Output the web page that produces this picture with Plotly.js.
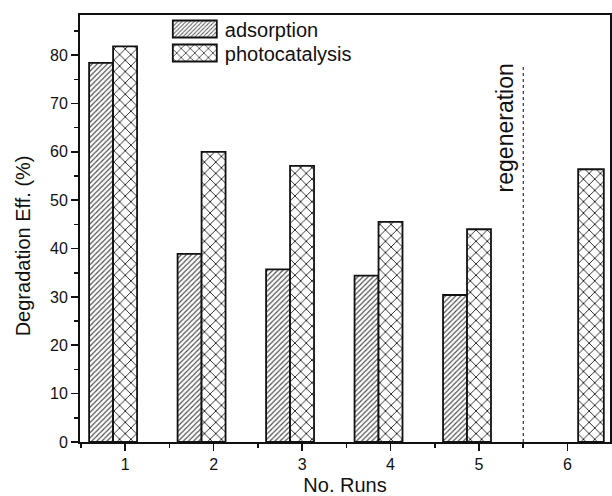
<!DOCTYPE html>
<html>
<head>
<meta charset="utf-8">
<script src="https://cdn.plot.ly/plotly-3.0.1.min.js"></script>
<style>
  html, body { margin: 0; padding: 0; background: #fff; }
  #chart { width: 612px; height: 496px; }
</style>
</head>
<body>
<div id="chart"></div>
<script>
// ---- data ----
const runs = [1, 2, 3, 4, 5, 6];
const adsorption = [78.4, 38.9, 35.7, 34.4, 30.4, null];
const photocatalysis = [81.8, 60.0, 57.1, 45.5, 44.0, 56.4];
const seriesNames = ['adsorption', 'photocatalysis'];
const regenerationX = 5.5;     // separator between run 5 and run 6
const regenerationTop = 78;    // top of the dotted separator
const regenerationLabel = 'regeneration';
const xTitle = 'No. Runs';
const yTitle = 'Degradation Eff. (%)';

// ---- styles ----
const FONT = 'Liberation Sans, Arial, Helvetica, sans-serif';
const INK = '#111';
const barW = 0.271;
const photoOffsets = [-0.136, -0.136, -0.136, -0.136, -0.136, 0.12];
const photoWidths = [barW, barW, barW, barW, barW, 0.29];

const traces = [
  {
    type: 'bar', name: seriesNames[0], x: runs, y: adsorption,
    width: barW, offset: -0.407,
    marker: {
      color: '#ffffff',
      line: { color: INK, width: 1.8 },
      pattern: { shape: '/', fgcolor: '#555', bgcolor: '#fff', size: 3.6, solidity: 0.35, fillmode: 'replace' }
    }
  },
  {
    type: 'bar', name: seriesNames[1], x: runs, y: photocatalysis,
    width: photoWidths, offset: photoOffsets,
    marker: {
      color: '#ffffff',
      line: { color: INK, width: 1.8 },
      pattern: { shape: 'x', fgcolor: '#222', bgcolor: '#fff', size: 8, solidity: 0.22, fillmode: 'replace' }
    }
  }
];

const layout = {
  width: 612, height: 496,
  margin: { l: 80, r: 2, t: 15, b: 54 },
  paper_bgcolor: '#fff', plot_bgcolor: '#fff',
  font: { family: FONT, color: INK, size: 16 },
  barmode: 'overlay',
  showlegend: true,
  legend: {
    x: 0.16, y: 1.0, xanchor: 'left', yanchor: 'top',
    bgcolor: 'rgba(0,0,0,0)', borderwidth: 0,
    font: { family: FONT, size: 20, color: INK },
    itemwidth: 50, tracegroupgap: 0
  },
  xaxis: {
    range: [0.49, 6.48],
    tickmode: 'linear', tick0: 1, dtick: 1,
    ticks: 'outside', ticklen: 7, tickwidth: 1.6, tickcolor: INK,
    minor: { ticks: 'outside', ticklen: 4, tickwidth: 1.6, tickcolor: INK, dtick: 0.5, tick0: 0.5, showgrid: false },
    showline: true, linecolor: INK, linewidth: 2, mirror: true,
    showgrid: false, zeroline: false,
    tickfont: { family: FONT, size: 16, color: INK },
    title: { text: xTitle, font: { family: FONT, size: 20, color: INK }, standoff: 8 }
  },
  yaxis: {
    range: [0, 88.3],
    tickmode: 'linear', tick0: 0, dtick: 10,
    ticks: 'outside', ticklen: 7, tickwidth: 1.6, tickcolor: INK,
    minor: { ticks: 'outside', ticklen: 4, tickwidth: 1.6, tickcolor: INK, dtick: 5, tick0: 0, showgrid: false },
    showline: true, linecolor: INK, linewidth: 2, mirror: true,
    showgrid: false, zeroline: false,
    tickfont: { family: FONT, size: 16, color: INK }
  },
  shapes: [
    {
      type: 'line', xref: 'x', yref: 'y',
      x0: regenerationX, x1: regenerationX, y0: 0, y1: regenerationTop,
      line: { color: '#333', width: 1.2, dash: 'dot' }
    }
  ],
  annotations: [
    {
      xref: 'x', yref: 'y', x: 5.29, y: 65,
      text: regenerationLabel, textangle: -90, showarrow: false,
      font: { family: FONT, size: 23, color: INK },
      xanchor: 'center', yanchor: 'middle'
    },
    {
      xref: 'paper', yref: 'paper', x: -0.108, y: 0.46,
      text: yTitle, textangle: -90, showarrow: false,
      font: { family: FONT, size: 20, color: INK },
      xanchor: 'center', yanchor: 'middle'
    }
  ]
};

Plotly.newPlot('chart', traces, layout, { displayModeBar: false, staticPlot: true }).then(function () {
  // widen legend swatches to match the reference's rectangular keys
  document.querySelectorAll('.legend .legendpoints path').forEach(function (p) {
    p.setAttribute('d', 'M22,8.5H-22V-8.5H22Z');
  });
  // tighten legend row spacing as in the reference
  const items = document.querySelectorAll('.legend .traces');
  items.forEach(function (g, i) {
    g.setAttribute('transform', 'translate(0,' + (14 + i * 24) + ')');
  });
});
</script>
</body>
</html>
